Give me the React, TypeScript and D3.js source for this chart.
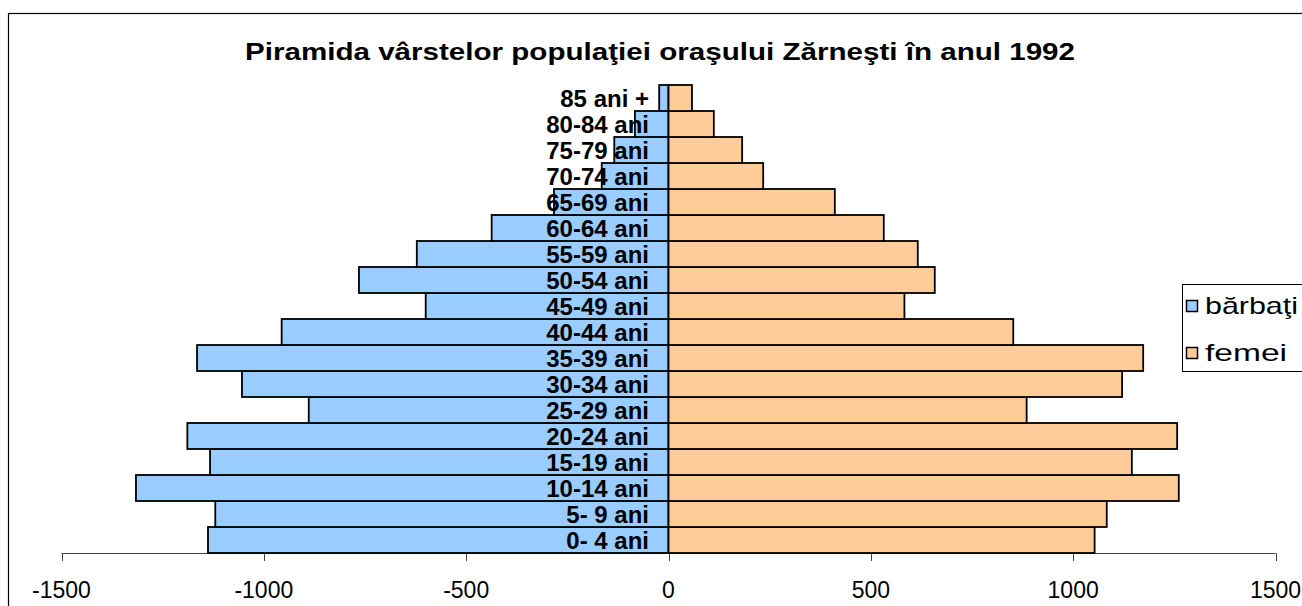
import React from "react";
import * as d3 from "d3";

const categories = [
  "0- 4 ani", "5- 9 ani", "10-14 ani", "15-19 ani", "20-24 ani", "25-29 ani",
  "30-34 ani", "35-39 ani", "40-44 ani", "45-49 ani", "50-54 ani", "55-59 ani",
  "60-64 ani", "65-69 ani", "70-74 ani", "75-79 ani", "80-84 ani", "85 ani +",
];
const barbati = [1138, 1120, 1316, 1133, 1189, 889, 1054, 1165, 956, 600, 765, 622, 437, 283, 165, 134, 83, 23];
const femei = [1053, 1083, 1261, 1145, 1257, 885, 1121, 1173, 852, 583, 658, 616, 532, 411, 234, 182, 112, 58];
const xTicks = [-1500, -1000, -500, 0, 500, 1000, 1500];
const title = "Piramida vârstelor populaţiei oraşului Zărneşti în anul 1992";
const seriesNames = ["bărbaţi", "femei"];
const seriesColors = ["#99CCFF", "#FFCC99"];

const W = 1302;
const H = 606;
const FONT = "Arial, 'Liberation Sans', Helvetica, sans-serif";

export default function App() {
  const x = d3.scaleLinear().domain([-1500, 1500]).range([61.5, 1275.5]);
  const y = d3.scaleBand<string>().domain(categories).range([553, 85]).padding(0);
  const bw = y.bandwidth();
  const axisY = 553;

  return (
    <svg
      width={W}
      height={H}
      style={{ position: "absolute", left: 0, top: 0, display: "block", background: "#fff" }}
      fontFamily={FONT}
    >
      <rect x={0} y={0} width={W} height={H} fill="#fff" />
      <rect x={8.5} y={13.5} width={1400} height={700} fill="none" stroke="#000" strokeWidth={1.2} />

      <text
        x={660}
        y={60}
        textAnchor="middle"
        fontSize={24.5}
        fontWeight="bold"
        textLength={830}
        lengthAdjust="spacingAndGlyphs"
      >
        {title}
      </text>

      {/* axis */}
      <line x1={x(-1500)} x2={x(1500)} y1={axisY + 0.5} y2={axisY + 0.5} stroke="#444" strokeWidth={1} />
      {xTicks.map((t) => (
        <g key={t}>
          <line x1={Math.round(x(t)) + 0.5} x2={Math.round(x(t)) + 0.5} y1={axisY} y2={axisY + 8} stroke="#444" strokeWidth={1} />
          <text x={x(t)} y={598} textAnchor="middle" fontSize={23}>
            {t}
          </text>
        </g>
      ))}

      {/* male bars */}
      {categories.map((c, i) => (
        <rect
          key={"m" + c}
          x={x(-barbati[i])}
          y={y(c)!}
          width={x(0) - x(-barbati[i])}
          height={bw}
          fill={seriesColors[0]}
          stroke="#000"
          strokeWidth={1.8}
        />
      ))}
      {/* female bars */}
      {categories.map((c, i) => (
        <rect
          key={"f" + c}
          x={x(0)}
          y={y(c)!}
          width={x(femei[i]) - x(0)}
          height={bw}
          fill={seriesColors[1]}
          stroke="#000"
          strokeWidth={1.8}
        />
      ))}

      {/* category labels */}
      {categories.map((c) => (
        <text
          key={"l" + c}
          x={649}
          y={y(c)! + bw / 2 + 8.5}
          textAnchor="end"
          fontSize={24}
          fontWeight="bold"
        >
          {c}
        </text>
      ))}

      {/* legend */}
      <rect x={1182.5} y={284.5} width={200} height={87} fill="#fff" stroke="#000" strokeWidth={1} />
      {seriesNames.map((s, i) => (
        <g key={s}>
          <rect
            x={1186.5}
            y={300.5 + i * 47}
            width={11}
            height={11}
            fill={seriesColors[i]}
            stroke="#000"
            strokeWidth={1.5}
          />
          <text
            x={1205}
            y={314 + i * 47}
            fontSize={24}
            textLength={i === 0 ? 93 : 82}
            lengthAdjust="spacingAndGlyphs"
          >
            {s}
          </text>
        </g>
      ))}
    </svg>
  );
}
